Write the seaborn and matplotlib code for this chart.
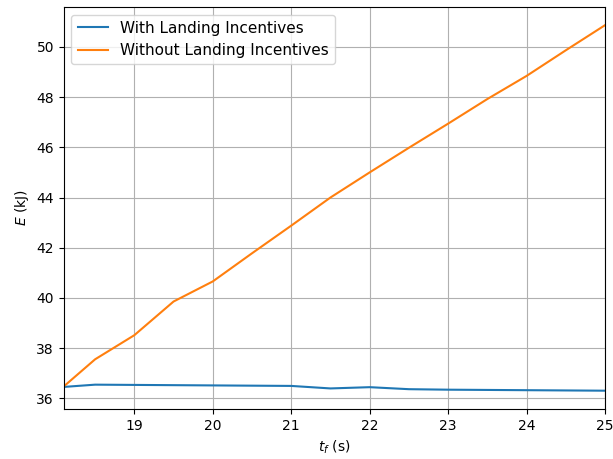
import matplotlib
matplotlib.use("Agg")
import matplotlib.pyplot as plt
import seaborn as sns
import pandas as pd

t_f = [18.1, 18.5, 19.0, 19.5, 20.0, 20.5, 21.0, 21.5, 22.0, 22.5, 23.0, 23.5, 24.0, 24.5, 25.0]
with_incentives = [36.46, 36.55, 36.54, 36.53, 36.52, 36.51, 36.50, 36.40, 36.45, 36.37, 36.35, 36.34, 36.33, 36.32, 36.31]
without_incentives = [36.48, 37.56, 38.52, 39.86, 40.66, 41.78, 42.88, 44.00, 45.00, 45.98, 46.94, 47.92, 48.84, 49.86, 50.86]
labels = ["With Landing Incentives", "Without Landing Incentives"]

df = pd.DataFrame({
    "t_f": t_f * 2,
    "E": with_incentives + without_incentives,
    "series": [labels[0]] * len(t_f) + [labels[1]] * len(t_f),
})

fig, ax = plt.subplots(figsize=(6.13, 4.59), dpi=100)
fig.subplots_adjust(left=0.104, right=0.987, top=0.985, bottom=0.109)
sns.lineplot(data=df, x="t_f", y="E", hue="series", palette=["#1f77b4", "#ff7f0e"],
             ax=ax, linewidth=1.5)
ax.set_xlim(min(t_f), max(t_f))
ax.grid(True)
ax.set_xlabel(r"$t_f$ (s)")
ax.set_ylabel(r"$E$ (kJ)")
ax.legend(loc="upper left", title=None, fontsize=11)
fig.savefig("out.png", dpi=100)
